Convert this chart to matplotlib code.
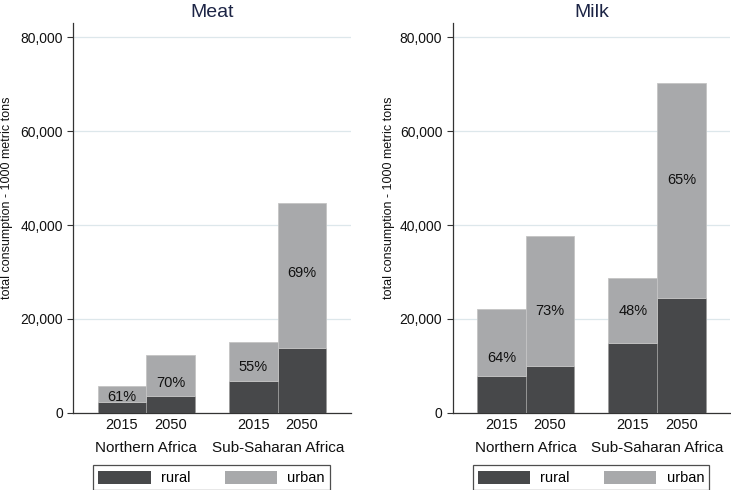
import matplotlib
matplotlib.use("Agg")
import matplotlib.pyplot as plt
from matplotlib.patches import Patch
from matplotlib.ticker import FuncFormatter

plt.rcParams['font.family'] = ['Liberation Sans', 'DejaVu Sans']

# ---- data ----
regions = ["Northern Africa", "Sub-Saharan Africa"]
years = ["2015", "2050"]

meat_total = [5750, 12200, 15000, 44700]
meat_rural = [2200, 3620, 6750, 13720]
meat_pct = ["61%", "70%", "55%", "69%"]
meat_label_y = [3400, 6300, 9700, 29700]

milk_total = [22100, 37650, 28700, 70200]
milk_rural = [7900, 9950, 14850, 24400]
milk_pct = ["64%", "73%", "48%", "65%"]
milk_label_y = [11600, 21700, 21700, 49700]

titles = ["Meat", "Milk"]
yticks = [0, 20000, 40000, 60000, 80000]

RURAL = "#47484a"
URBAN = "#a8a9ab"
GRID = "#dde7eb"

fig = plt.figure(figsize=(7.31, 4.90), dpi=100)
W, H = 731, 490
ax_w = 277.4
ax_h = 389.4
bottom_px = 412.7
lefts = [73.3, 452.7]
ylabel_x = [-0.217, -0.208]

panels = [
    (meat_total, meat_rural, meat_pct, meat_label_y),
    (milk_total, milk_rural, milk_pct, milk_label_y),
]

for i, (total, rural, pct, ly) in enumerate(panels):
    ax = fig.add_axes([lefts[i] / W, 1 - bottom_px / H, ax_w / W, ax_h / H])
    xs = []
    for g in range(len(regions)):
        for y in range(len(years)):
            xs.append(1 + g * 2.7 + y)
    urban = [t - r for t, r in zip(total, rural)]
    ax.bar(xs, rural, width=1.0, color=RURAL, edgecolor="#9a9a9a", linewidth=0.6, zorder=3)
    ax.bar(xs, urban, bottom=rural, width=1.0, color=URBAN, edgecolor="#c4c4c4", linewidth=0.6, zorder=3)
    for x, t, yy in zip(xs, pct, ly):
        ax.text(x, yy, t, ha="center", va="center", fontsize=10.5, color="#111111", zorder=4)

    ax.set_xlim(0, 5.7)
    ax.set_ylim(0, 83000)
    ax.set_yticks(yticks)
    ax.yaxis.set_major_formatter(FuncFormatter(lambda v, p: f"{int(v):,}"))
    ax.grid(axis="y", color=GRID, linewidth=0.9, zorder=0)
    ax.set_axisbelow(True)
    ax.set_xticks([])
    ax.tick_params(axis="y", length=4.5, width=0.8, color="#333333", labelsize=10, pad=3,
                   labelcolor="#111111")
    for s in ["top", "right"]:
        ax.spines[s].set_visible(False)
    for s in ["left", "bottom"]:
        ax.spines[s].set_color("#333333")
        ax.spines[s].set_linewidth(0.9)

    tr = ax.get_xaxis_transform()
    k = 0
    for g, reg in enumerate(regions):
        for y, yr in enumerate(years):
            ax.text(xs[k], -0.032, yr, transform=tr, ha="center", va="center", fontsize=10.5, color="#111111")
            k += 1
        ax.text((xs[2 * g] + xs[2 * g + 1]) / 2, -0.0914, reg, transform=tr,
                ha="center", va="center", fontsize=11, color="#111111")

    ax.set_title(titles[i], fontsize=14, color="#1c2445", pad=4.5)
    ax.set_ylabel("total consumption - 1000 metric tons", fontsize=9, color="#111111")
    ax.yaxis.set_label_coords(ylabel_x[i], 0.551)

    handles = [Patch(facecolor=RURAL, edgecolor="none", label="rural"),
               Patch(facecolor=URBAN, edgecolor="none", label="urban")]
    leg = ax.legend(handles=handles, ncol=2, loc="lower left",
                    bbox_to_anchor=(0.072, -0.199, 0.853, 0.071), mode="expand",
                    fontsize=10.5, handlelength=3.6, handleheight=1.0,
                    frameon=True, fancybox=False, borderaxespad=0,
                    borderpad=0.35, handletextpad=0.7, columnspacing=2.0)
    leg.get_frame().set_edgecolor("#222222")
    leg.get_frame().set_linewidth(0.9)

fig.savefig("out.png", dpi=100)
